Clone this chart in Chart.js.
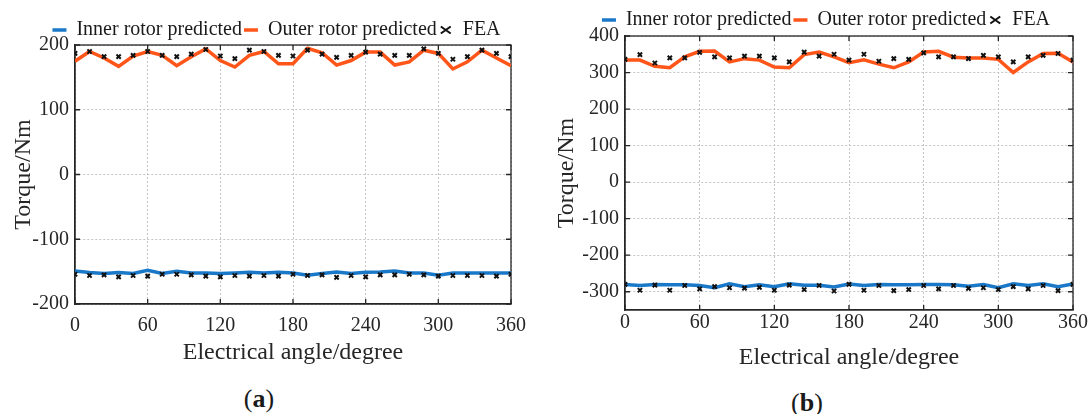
<!DOCTYPE html>
<html>
<head>
<meta charset="utf-8">
<script src="https://cdn.jsdelivr.net/npm/chart.js@4.4.1/dist/chart.umd.min.js"></script>
<style>
  body { margin: 0; background: #fff; width: 1091px; height: 414px; overflow: hidden; position: relative; }
  canvas { position: absolute; top: 0; }
  .cap { position: absolute; font-family: 'Liberation Serif', serif; font-size: 26px; color: #1a1a1a; transform: translate(-50%, -50%); }
</style>
</head>
<body>
<canvas id="chartA" style="left:0px"></canvas>
<canvas id="chartB" style="left:545px"></canvas>
<div class="cap" style="left:259px; top:399px">(<b>a</b>)</div>
<div class="cap" style="left:807px; top:403px">(<b>b</b>)</div>
<script>
// electrical angle (degree), one sample every 12 degrees
const angles = [0,12,24,36,48,60,72,84,96,108,120,132,144,156,168,180,192,204,216,228,240,252,264,276,288,300,312,324,336,348,360];
const xTicks = [0,60,120,180,240,300,360];

// (a)
const innerA = [-149,-151.5,-153,-151.5,-153,-148,-153,-149.5,-152,-152,-153,-152,-151,-152,-151,-152,-155.5,-153,-150.5,-153,-151,-150.5,-149,-152,-152,-155.5,-152,-152,-152,-152,-152];
const innerFeaA = [-154,-156,-155,-158,-156,-157,-154,-154,-155,-157,-158,-156,-157,-156,-157,-154,-156,-155,-159,-156,-158,-155,-155,-154,-155,-157,-156,-156,-156,-157,-154];
const outerA = [175,190,180,167,183,190,184,168,182,194,176,166,184,190,171,171,195,188,169,176,189,189,169,174,192,187,163,174,192,180,168];
const outerFeaA = [187,190,182,182,184,190,184,182,186,193,183,179,192,190,184,183,192,186,181,184,189,186,184,184,194,187,178,182,192,187,182];
const yTicksA = [-200,-100,0,100,200];

// (b)
const innerB = [-280,-283,-280,-281,-281,-283,-289,-278,-286,-281,-286,-278,-282,-282,-287,-279,-283,-280,-281,-281,-280,-280,-281,-285,-280,-289,-278,-283,-278,-286,-279];
const innerFeaB = [-280,-296,-282,-296,-283,-292,-286,-289,-290,-288,-296,-282,-294,-283,-298,-280,-296,-283,-297,-294,-283,-292,-283,-291,-289,-294,-286,-292,-283,-297,-280];
const outerB = [334,334,317,313,343,358,359,329,338,334,315,313,349,356,343,327,335,323,313,329,356,358,342,340,340,336,300,329,352,353,329];
const outerFeaB = [336,349,326,340,340,355,343,340,345,345,340,329,356,345,350,334,350,331,338,336,354,343,343,338,347,343,329,343,347,352,334];
const yTicksB = [-300,-200,-100,0,100,200,300,400];

const blue = '#1a78c9';
const orange = '#ff5519';
const ink = '#262626';

Chart.defaults.font.family = "'Liberation Serif', serif";
Chart.defaults.font.size = 20;
Chart.defaults.color = ink;

function pts(vals){
    return vals.map((v,i) => ({x: angles[i], y: v}));
}

// box around the plot + inward tick marks, like matlab
const frame = {
    id: 'frame',
    afterLayout(chart){
        // nudge the legend, it sits over the plot in the original
        const s = chart.options.plugins.frame || {};
        const lg = chart.legend;
        if (!lg) return;
        lg.left += s.dx || 0; lg.right += s.dx || 0;
        lg.top += s.dy || 0; lg.bottom += s.dy || 0;
    },
    beforeDatasetsDraw(chart){
        const {ctx, chartArea: a, scales} = chart;
        ctx.save();
        ctx.strokeStyle = ink;
        ctx.lineWidth = 1.3;
        ctx.strokeRect(a.left, a.top, a.width, a.height);
        ctx.beginPath();
        scales.x.ticks.forEach(t => {
            const p = scales.x.getPixelForValue(t.value);
            ctx.moveTo(p, a.bottom); ctx.lineTo(p, a.bottom - 5);
            ctx.moveTo(p, a.top); ctx.lineTo(p, a.top + 5);
        });
        scales.y.ticks.forEach(t => {
            const p = scales.y.getPixelForValue(t.value);
            ctx.moveTo(a.left, p); ctx.lineTo(a.left + 5, p);
            ctx.moveTo(a.right, p); ctx.lineTo(a.right - 5, p);
        });
        ctx.stroke();
        ctx.restore();
    }
};

function makeChart(id, w, h, inner, innerFea, outer, outerFea, yMin, yMax, yTicks, lay){
    const canvas = document.getElementById(id);
    canvas.width = w; canvas.height = h;
    canvas.style.width = w + 'px'; canvas.style.height = h + 'px';
    const data = {
        datasets: [
            { label: 'Inner rotor predicted', data: pts(inner), borderColor: blue, backgroundColor: blue,
              borderWidth: 3.5, pointRadius: 0, pointStyle: 'line', order: 2 },
            { label: 'Outer rotor predicted', data: pts(outer), borderColor: orange, backgroundColor: orange,
              borderWidth: 3.5, pointRadius: 0, pointStyle: 'line', order: 1 },
            { label: 'FEA', data: pts(outerFea).concat(pts(innerFea)), showLine: false,
              borderColor: '#111', backgroundColor: '#111', borderWidth: 2, pointRadius: 3,
              pointStyle: 'crossRot', order: 0 }
        ]
    };
    return new Chart(canvas, {
        type: 'line',
        data: data,
        plugins: [frame],
        options: {
            responsive: false,
            animation: false,
            layout: { padding: lay.pad },
            plugins: {
                frame: { dx: lay.ldx, dy: lay.ldy },
                tooltip: { enabled: false },
                legend: {
                    position: 'top',
                    labels: {
                        usePointStyle: true, pointStyleWidth: 14, boxHeight: 7,
                        padding: 2, color: '#1a1a1a',
                        font: { size: 20 },
                        sort: (a, b) => a.datasetIndex - b.datasetIndex
                    }
                }
            },
            scales: {
                x: {
                    type: 'linear', min: 0, max: 360,
                    afterBuildTicks: s => { s.ticks = xTicks.map(v => ({value: v})); },
                    afterFit: s => { s.height = lay.xh; },
                    ticks: { padding: lay.xtp, maxRotation: 0 },
                    grid: { color: '#c4c4c4', drawTicks: false },
                    border: { color: ink, width: 1.3, dash: [2, 2] },
                    title: { display: true, text: 'Electrical angle/degree', padding: { bottom: lay.xtb }, font: { size: 24 } }
                },
                y: {
                    min: yMin, max: yMax,
                    afterBuildTicks: s => { s.ticks = yTicks.map(v => ({value: v})); },
                    afterFit: s => { s.width = lay.yw; },
                    ticks: { padding: 6 },
                    grid: { color: '#c4c4c4', drawTicks: false },
                    border: { color: ink, width: 1.3, dash: [2, 2] },
                    title: { display: true, text: 'Torque/Nm', padding: { top: lay.ytp }, font: { size: 24 } }
                }
            }
        }
    });
}

makeChart('chartA', 540, 375, innerA, innerFeaA, outerA, outerFeaA, -200, 200, yTicksA,
    { pad: { top: 13, right: 29, left: 0, bottom: 0 }, xh: 71, xtp: 10, xtb: 8, yw: 75, ytp: 9, ldx: 21, ldy: 5 });
makeChart('chartB', 546, 378, innerB, innerFeaB, outerB, outerFeaB, -350, 400, yTicksB,
    { pad: { top: 4, right: 18, left: 0, bottom: 0 }, xh: 68, xtp: 1, xtb: 6, yw: 80, ytp: 7, ldx: 17, ldy: 4 });
</script>
</body>
</html>
